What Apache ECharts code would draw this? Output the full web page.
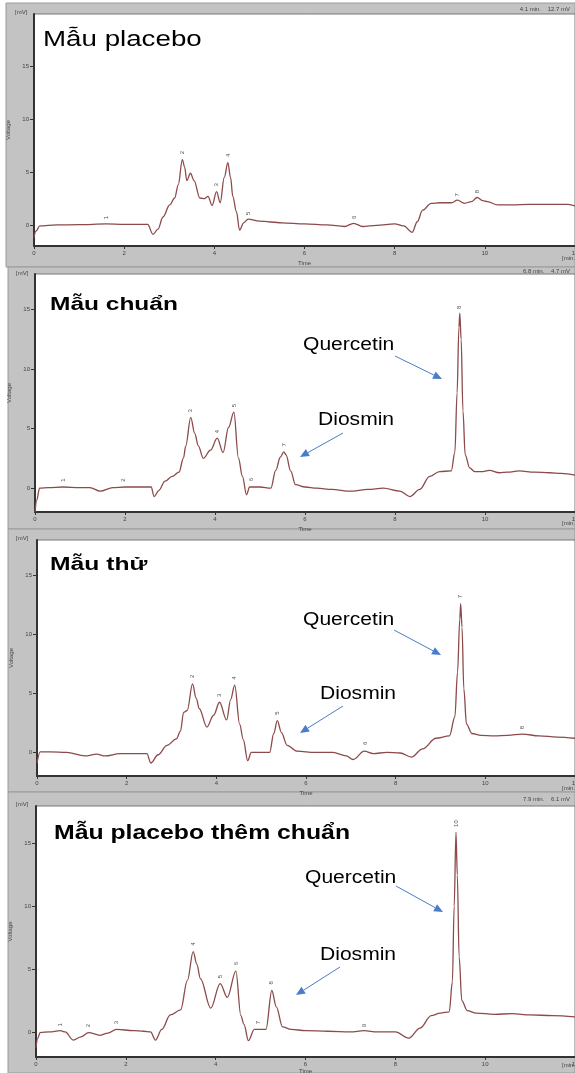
<!DOCTYPE html>
<html>
<head>
<meta charset="utf-8">
<script src="https://cdn.jsdelivr.net/npm/echarts@6/dist/echarts.min.js"></script>
<style>
  html, body { margin: 0; padding: 0; background: #fff; }
  #chart { width: 575px; height: 1073px; }
</style>
</head>
<body>
<div id="chart"></div>
<script>
// axis ticks shared by all four chromatograms
const xTicks = [0, 2, 4, 6, 8, 10, 12]
const yTicks = [0, 5, 10, 15]

// Mẫu placebo
const placeboTime = [0, 0.04, 0.13, 0.5, 1.0, 1.6, 2.0, 2.52, 2.64, 2.75, 2.86, 3.01, 3.12, 3.2, 3.29, 3.34, 3.39, 3.47, 3.55, 3.68, 3.78, 3.86, 3.95, 4.05, 4.13, 4.22, 4.3, 4.36, 4.41, 4.49, 4.56, 4.65, 4.75, 5.0, 5.5, 6.0, 6.5, 6.89, 7.09, 7.29, 7.6, 8.0, 8.2, 8.39, 8.5, 8.62, 8.81, 9.0, 9.26, 9.39, 9.55, 9.7, 9.83, 9.95, 10.06, 10.28, 10.6, 11.0, 11.5, 11.85, 12.0]
const placeboVolt = [-1.2, -0.6, -0.1, 0.0, 0.02, 0.1, 0.05, 0.05, -0.9, -0.4, 0.75, 1.9, 2.55, 3.8, 6.2, 5.5, 4.2, 4.9, 4.2, 2.55, 2.5, 2.7, 1.85, 3.15, 2.1, 4.5, 5.9, 4.5, 2.7, 1.25, -0.5, 0.2, 0.55, 0.35, 0.2, 0.1, 0.0, -0.15, 0.15, -0.15, -0.05, 0.1, -0.1, -0.7, 0.3, 1.4, 2.05, 2.1, 2.1, 2.35, 2.05, 2.2, 2.6, 2.3, 2.2, 1.9, 1.9, 1.95, 1.95, 1.95, 1.8]
const placeboPeakTime = [1.6, 3.29, 4.05, 4.3, 4.75, 7.1, 9.4, 9.83]
const placeboPeakVolt = [0.7, 6.85, 3.8, 6.6, 1.1, 0.73, 2.85, 3.15]

// Mẫu chuẩn
const stdTime = [0, 0.04, 0.1, 0.3, 0.62, 1.0, 1.22, 1.45, 1.73, 2.0, 2.3, 2.58, 2.65, 2.75, 2.89, 3.05, 3.2, 3.3, 3.35, 3.46, 3.55, 3.63, 3.74, 3.9, 4.05, 4.18, 4.3, 4.42, 4.52, 4.61, 4.7, 4.77, 5.0, 5.24, 5.35, 5.45, 5.53, 5.58, 5.68, 5.79, 6.0, 6.26, 6.6, 7.0, 7.4, 7.74, 8.11, 8.33, 8.55, 8.77, 8.99, 9.25, 9.33, 9.38, 9.42, 9.44, 9.47, 9.51, 9.56, 9.66, 9.77, 9.95, 10.1, 10.32, 10.5, 10.76, 11.1, 11.43, 11.7, 12.0]
const stdVolt = [-2.0, -1.0, 0.0, 0.05, 0.1, 0.05, 0.05, -0.25, 0.05, 0.1, 0.1, 0.1, -0.7, -0.2, 0.6, 1.0, 1.35, 2.55, 3.55, 5.95, 4.6, 3.55, 2.5, 3.2, 4.2, 3.0, 5.1, 6.4, 2.55, 1.0, -0.55, 0.1, 0.1, 0.0, 1.5, 2.6, 3.05, 2.8, 1.45, 0.3, 0.1, 0.0, -0.1, -0.25, -0.1, 0.0, -0.25, -0.7, -0.1, 1.0, 1.4, 1.45, 3.0, 8.0, 13.5, 14.7, 12.5, 6.5, 2.8, 1.7, 1.4, 1.4, 1.5, 1.3, 1.35, 1.45, 1.35, 1.3, 1.25, 1.1]
const stdPeakTime = [0.62, 1.97, 3.46, 4.05, 4.42, 4.8, 5.53, 9.44]
const stdPeakVolt = [0.68, 0.68, 6.5, 4.75, 6.95, 0.73, 3.65, 15.2]

// Mẫu thử
const sampleTime = [0, 0.07, 0.3, 0.66, 1.07, 1.33, 1.52, 1.85, 2.2, 2.45, 2.54, 2.7, 2.9, 3.11, 3.2, 3.27, 3.35, 3.47, 3.55, 3.62, 3.79, 3.94, 4.07, 4.23, 4.32, 4.41, 4.52, 4.6, 4.7, 4.78, 5.0, 5.19, 5.28, 5.36, 5.45, 5.58, 5.8, 6.2, 6.6, 6.9, 7.05, 7.3, 7.5, 7.8, 8.1, 8.35, 8.6, 8.9, 9.2, 9.32, 9.38, 9.43, 9.45, 9.48, 9.52, 9.58, 9.7, 9.9, 10.2, 10.5, 10.83, 11.2, 11.6, 12.0]
const sampleVolt = [-0.9, 0.05, 0.05, 0.0, -0.3, -0.15, -0.3, -0.1, -0.1, -0.1, -0.9, -0.2, 0.6, 1.15, 1.8, 3.4, 3.55, 5.8, 4.6, 3.7, 2.15, 3.15, 4.25, 2.75, 4.5, 5.7, 2.4, 1.1, -0.7, 0.0, 0.0, 0.0, 1.6, 2.7, 1.7, 0.6, 0.1, 0.0, 0.0, -0.3, -0.6, 0.1, -0.1, 0.0, -0.05, -0.4, 0.3, 1.2, 1.4, 3.0, 6.8, 11.3, 12.6, 10.6, 5.4, 2.4, 1.6, 1.45, 1.4, 1.45, 1.55, 1.4, 1.3, 1.2]
const samplePeakTime = [3.47, 4.07, 4.41, 5.36, 7.32, 9.45, 10.83]
const samplePeakVolt = [6.45, 4.83, 6.3, 3.33, 0.76, 13.2, 2.1]

// Mẫu placebo thêm chuẩn
const spikeTime = [0, 0.04, 0.09, 0.3, 0.54, 0.65, 0.83, 1.0, 1.17, 1.43, 1.6, 1.79, 2.17, 2.4, 2.55, 2.66, 2.8, 2.99, 3.22, 3.37, 3.5, 3.58, 3.66, 3.89, 4.1, 4.26, 4.45, 4.56, 4.63, 4.73, 4.86, 5.12, 5.25, 5.35, 5.49, 5.68, 6.0, 6.5, 7.0, 7.3, 7.6, 8.0, 8.3, 8.55, 8.8, 9.0, 9.2, 9.27, 9.31, 9.35, 9.38, 9.42, 9.48, 9.6, 9.8, 10.2, 10.6, 11.0, 11.5, 12.0]
const spikeVolt = [-1.25, -0.5, -0.05, 0.0, 0.1, 0.0, -0.65, -0.4, -0.05, -0.27, -0.1, 0.2, 0.1, 0.05, 0.0, -0.65, 0.2, 1.35, 1.75, 4.1, 6.4, 5.4, 4.25, 1.9, 3.85, 2.75, 4.85, 1.3, 0.6, -0.7, 0.2, 0.2, 3.3, 2.0, 0.4, 0.2, 0.1, 0.05, 0.0, 0.1, 0.0, 0.0, -0.5, 0.3, 1.3, 1.5, 1.6, 4.0, 10.0, 15.9, 12.5, 6.0, 2.5, 1.7, 1.5, 1.4, 1.45, 1.35, 1.3, 1.2]
const spikePeakTime = [0.54, 1.17, 1.79, 3.5, 4.1, 4.45, 4.95, 5.25, 7.3, 9.35]
const spikePeakVolt = [0.56, 0.5, 0.75, 7.0, 4.4, 5.45, 0.75, 3.9, 0.5, 16.6]

const panels = [
  { time: placeboTime, volt: placeboVolt, peakT: placeboPeakTime, peakV: placeboPeakVolt, yMax: 20, firstPeak: 1, nameGap: 14,
    grid: { left: 34, top: 14, width: 541, height: 232 } },
  { time: stdTime, volt: stdVolt, peakT: stdPeakTime, peakV: stdPeakVolt, yMax: 18, firstPeak: 1, nameGap: 14,
    grid: { left: 35, top: 274, width: 540, height: 238 } },
  { time: sampleTime, volt: sampleVolt, peakT: samplePeakTime, peakV: samplePeakVolt, yMax: 18, firstPeak: 2, nameGap: 14,
    grid: { left: 37, top: 540, width: 538, height: 236 } },
  { time: spikeTime, volt: spikeVolt, peakT: spikePeakTime, peakV: spikePeakVolt, yMax: 18, firstPeak: 1, nameGap: 11,
    grid: { left: 36, top: 806, width: 539, height: 251 } }
]

const lineColor = '#8c4a4a'
const gray = '#c3c3c3'
const font = '"Liberation Sans", Arial, sans-serif'

const grids = []
const xAxes = []
const yAxes = []
const series = []

panels.forEach((p, i) => {
  grids.push(Object.assign({ show: true, backgroundColor: '#fff', borderColor: '#777', borderWidth: 1, outerBoundsMode: 'none', containLabel: false }, p.grid))
  xAxes.push({
    type: 'value', gridIndex: i, min: 0, max: 12,
    name: 'Time', nameLocation: 'middle', nameGap: p.nameGap,
    nameTextStyle: { fontSize: 6, color: '#444', fontFamily: font },
    axisLine: { onZero: false, lineStyle: { color: '#333', width: 2 } },
    axisTick: { customValues: xTicks, length: 3, lineStyle: { color: '#333' } },
    axisLabel: { customValues: xTicks, fontSize: 6, color: '#444', margin: 4, fontFamily: font },
    splitLine: { show: false }
  })
  yAxes.push({
    type: 'value', gridIndex: i, min: -2, max: p.yMax,
    name: 'Voltage', nameLocation: 'middle', nameGap: 20, nameRotate: 90,
    nameTextStyle: { fontSize: 6, color: '#444', fontFamily: font },
    axisLine: { onZero: false, lineStyle: { color: '#333', width: 2 } },
    axisTick: { customValues: yTicks, length: 4, lineStyle: { color: '#333' } },
    axisLabel: { customValues: yTicks, fontSize: 6, color: '#444', margin: 5, fontFamily: font },
    splitLine: { show: false }
  })
  series.push({
    type: 'line', xAxisIndex: i, yAxisIndex: i,
    data: p.time.map((t, k) => [t, p.volt[k]]),
    smooth: 0.35, smoothMonotone: 'x', showSymbol: false,
    lineStyle: { color: lineColor, width: 1.3 }
  })
  series.push({
    type: 'scatter', xAxisIndex: i, yAxisIndex: i, symbolSize: 0,
    data: p.peakT.map((t, k) => ({ value: [t, p.peakV[k]], name: String(k + p.firstPeak) })),
    label: { show: true, formatter: '{b}', rotate: 90, fontSize: 6, color: '#222', position: 'inside' }
  })
})

function arrow(x1, y1, x2, y2) {
  const a = Math.atan2(y2 - y1, x2 - x1)
  const len = 9, w = 4
  const bx = x2 - len * Math.cos(a), by = y2 - len * Math.sin(a)
  return [
    { type: 'line', z: 10, shape: { x1: x1, y1: y1, x2: bx, y2: by }, style: { stroke: '#4a7cc8', lineWidth: 1 } },
    { type: 'polygon', z: 10, shape: { points: [[x2, y2], [bx + w * Math.sin(a), by - w * Math.cos(a)], [bx - w * Math.sin(a), by + w * Math.cos(a)]] }, style: { fill: '#4a7cc8' } }
  ]
}

function label(text, x, y, size, bold, sx) {
  return { type: 'text', z: 10, x: x, y: y, scaleX: sx || 1,
    style: { text: text, font: (bold ? 'bold ' : '') + size + 'px ' + font, fill: '#000', verticalAlign: 'middle' } }
}

function small(text, x, y, align) {
  return { type: 'text', z: 10, x: x, y: y,
    style: { text: text, font: '6px ' + font, fill: '#444', align: align || 'left', verticalAlign: 'middle' } }
}

const panelBoxes = [[6, 3, 569, 264], [8, 267, 567, 262], [8, 529, 567, 263], [8, 792, 567, 281]]
const graphics = []
panelBoxes.forEach(b => {
  graphics.push({ type: 'rect', z: -10, shape: { x: b[0], y: b[1], width: b[2], height: b[3] }, style: { fill: gray, stroke: '#9a9a9a', lineWidth: 1 } })
})

graphics.push(
  small('[mV]', 15, 12), small('[mV]', 16, 273), small('[mV]', 16, 538), small('[mV]', 16, 804),
  small('[min.]', 562, 258), small('[min.]', 562, 523), small('[min.]', 562, 788), small('[min.]', 562, 1065),
  small('4.1 min.    12.7 mV', 570, 9, 'right'),
  small('6.8 min.    4.7 mV', 570, 271, 'right'),
  small('7.9 min.    6.1 mV', 570, 799, 'right'),
  label('Mẫu placebo', 43, 40, 22, false, 1.26),
  label('Mẫu chuẩn', 50, 305, 18, true, 1.36),
  label('Mẫu thử', 50, 565, 18, true, 1.37),
  label('Mẫu placebo thêm chuẩn', 54, 833, 21, true, 1.18),
  label('Quercetin', 303, 345, 18, false, 1.17),
  label('Diosmin', 318, 420, 18, false, 1.17),
  label('Quercetin', 303, 620, 18, false, 1.17),
  label('Diosmin', 320, 694, 18, false, 1.17),
  label('Quercetin', 305, 878, 18, false, 1.17),
  label('Diosmin', 320, 955, 18, false, 1.17)
)
graphics.push(...arrow(395, 356, 442, 379), ...arrow(343, 433, 300, 457))
graphics.push(...arrow(394, 630, 441, 655), ...arrow(343, 706, 300, 733))
graphics.push(...arrow(396, 886, 443, 912), ...arrow(340, 967, 296, 995))

const chart = echarts.init(document.getElementById('chart'))
chart.setOption({
  animation: false,
  backgroundColor: '#fff',
  grid: grids,
  xAxis: xAxes,
  yAxis: yAxes,
  series: series,
  graphic: { elements: graphics }
})
</script>
</body>
</html>
